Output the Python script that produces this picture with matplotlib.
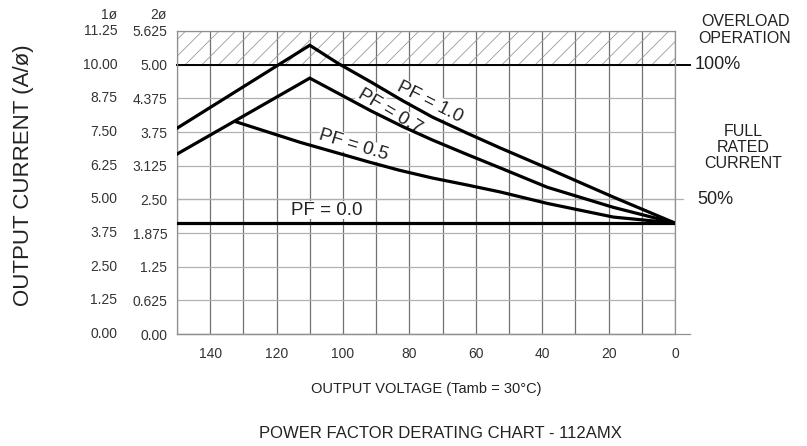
import matplotlib.pyplot as plt
import numpy as np

plt.rcParams["font.family"] = ["Liberation Sans", "DejaVu Sans"]
plt.rcParams["hatch.linewidth"] = 0.6

# 数据 (电压 V, 1ø 电流 A)
pf10_v = [150, 110, 101.5, 91.5, 82, 73, 62.5, 52.5, 38.5, 18.5, 0]
pf10_i = [7.64, 10.72, 10.05, 9.35, 8.66, 8.05, 7.45, 6.90, 6.16, 5.08, 4.12]
pf07_v = [150, 110, 101.5, 91.5, 82, 73, 62.5, 52.5, 38.5, 18.5, 0]
pf07_i = [6.68, 9.50, 8.94, 8.28, 7.70, 7.20, 6.66, 6.16, 5.45, 4.70, 4.12]
pf05_v = [132, 113, 92, 83, 73, 62.5, 52.5, 38.5, 18.5, 0]
pf05_i = [7.87, 7.12, 6.38, 6.08, 5.79, 5.53, 5.27, 4.85, 4.34, 4.12]
pf00_v = [150, 0]
pf00_i = [4.12, 4.12]

x_ticks = [140, 120, 100, 80, 60, 40, 20, 0]
y_ticks = [0, 1.25, 2.5, 3.75, 5, 6.25, 7.5, 8.75, 10, 11.25]
labels_1ph = ["0.00", "1.25", "2.50", "3.75", "5.00", "6.25", "7.50", "8.75", "10.00", "11.25"]
labels_2ph = ["0.00", "0.625", "1.25", "1.875", "2.50", "3.125", "3.75", "4.375", "5.00", "5.625"]

fig = plt.figure(figsize=(8.07, 4.46), dpi=100)
ax = fig.add_axes([0.2193, 0.2511, 0.6171, 0.6794])
ax.set_xlim(150, 0)
ax.set_ylim(0, 11.25)

# 网格
ax.set_xticks(x_ticks)
ax.set_xticks(np.arange(10, 151, 20), minor=True)
ax.set_yticks(y_ticks)
ax.set_yticklabels(labels_2ph)
ax.grid(True, which="both", axis="x", color="#707070", linewidth=0.9, zorder=0)
ax.grid(True, axis="y", color="#b0b0b0", linewidth=0.9, zorder=0)
ax.set_axisbelow(True)
ax.tick_params(axis="both", which="both", length=0, labelsize=10, labelcolor="#333333")
ax.tick_params(axis="x", pad=9)
ax.tick_params(axis="y", pad=7)
for s in ax.spines.values():
    s.set_color("#909090")
    s.set_linewidth(0.9)

# 过载区域
ax.axhspan(10, 11.25, facecolor="none", edgecolor="#9a9a9a", hatch="//", linewidth=0, zorder=1)
ax.axhline(10, xmin=0, xmax=1.03, color="black", linewidth=1.4, clip_on=False, zorder=2)
ax.axhline(5, xmin=0, xmax=1.016, color="#b0b0b0", linewidth=0.9, clip_on=False, zorder=1)
ax.axhline(0, xmin=0, xmax=1.03, color="#909090", linewidth=0.9, clip_on=False, zorder=1)

# 1ø 标签列
trans = ax.get_yaxis_transform()
for y, lab in zip(y_ticks, labels_1ph):
    ax.text(-0.12, y, lab, transform=trans, ha="right", va="center", fontsize=10, color="#333333")
ax.text(-0.12, 11.85, "1ø", transform=trans, ha="right", va="center", fontsize=10, color="#333333", clip_on=False)
ax.text(-0.0201, 11.85, "2ø", transform=trans, ha="right", va="center", fontsize=10, color="#333333", clip_on=False)

# 曲线
for v, i in [(pf10_v, pf10_i), (pf07_v, pf07_i), (pf05_v, pf05_i), (pf00_v, pf00_i)]:
    ax.plot(v, i, color="black", linewidth=2.3, solid_joinstyle="miter", zorder=4)

box = dict(facecolor="white", edgecolor="none", pad=0.5)
ax.text(73.8, 8.61, "PF = 1.0", rotation=-27, ha="center", va="center", fontsize=13.5, color="#222222", bbox=box, zorder=3)
ax.text(85.8, 8.27, "PF = 0.7", rotation=-31, ha="center", va="center", fontsize=13.5, color="#222222", bbox=box, zorder=3)
ax.text(96.7, 7.01, "PF = 0.5", rotation=-17, ha="center", va="center", fontsize=13.5, color="#222222", bbox=box, zorder=3)
ax.text(104.8, 4.60, "PF = 0.0", rotation=0, ha="center", va="center", fontsize=13.5, color="#222222", bbox=box, zorder=3)

# 右侧说明
ax.text(1.04, 10, "100%", transform=trans, ha="left", va="center", fontsize=13, color="#222222")
ax.text(1.044, 5, "50%", transform=trans, ha="left", va="center", fontsize=13, color="#222222")
fig.text(745 / 807, 1 - 30 / 446, "OVERLOAD\nOPERATION", ha="center", va="center", fontsize=11.5,
         color="#222222", linespacing=1.1)
fig.text(743 / 807, 1 - 147.5 / 446, "FULL\nRATED\nCURRENT", ha="center", va="center", fontsize=11.5,
         color="#222222", linespacing=1.1)

fig.text(24 / 807, 1 - 175 / 446, "OUTPUT CURRENT (A/ø)", rotation=90, ha="center", va="center",
         fontsize=16, color="#222222")
fig.text(426 / 807, 1 - 389 / 446, "OUTPUT VOLTAGE (Tamb = 30°C)", ha="center", va="center",
         fontsize=10.5, color="#222222")
fig.text(440 / 807, 1 - 433 / 446, "POWER FACTOR DERATING CHART - 112AMX", ha="center", va="center",
         fontsize=12, color="#222222")

fig.savefig("out.png", dpi=100)
